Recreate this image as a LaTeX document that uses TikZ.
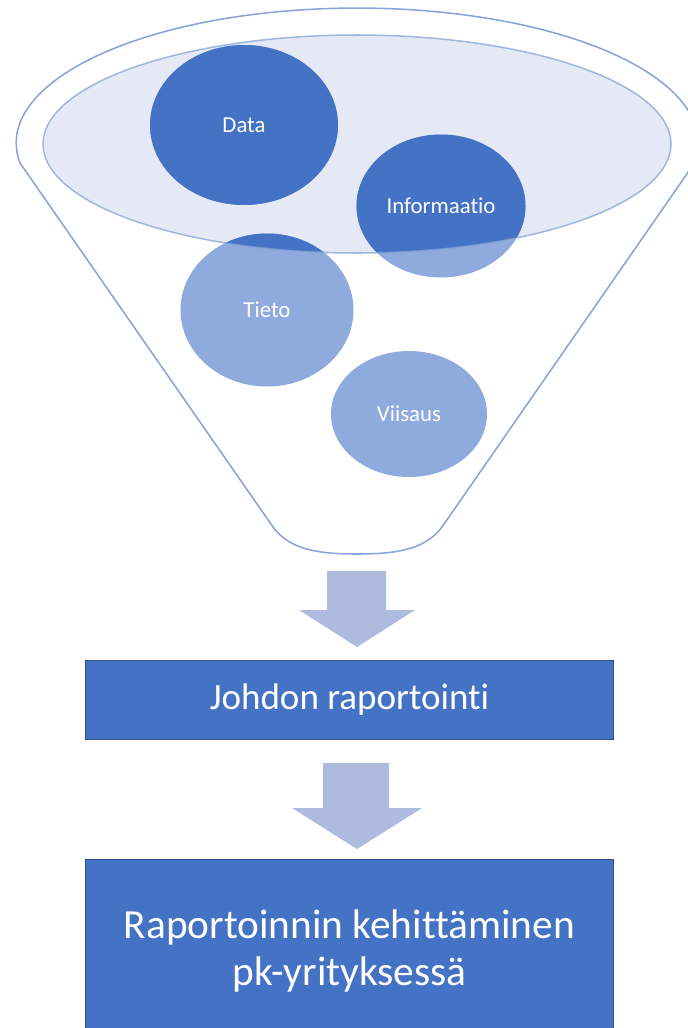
\documentclass[tikz,border=0pt]{standalone}
\usepackage{fontspec}
\setmainfont[Ligatures=NoCommon]{Carlito}
\usetikzlibrary{positioning, shapes.geometric, backgrounds, calc}
\definecolor{accentBlue}{RGB}{68, 114, 196}
\definecolor{paleBlue}{RGB}{143, 170, 220}
\definecolor{rimFill}{RGB}{229, 233, 245}
\definecolor{rimLine}{RGB}{135, 163, 217}
\definecolor{arrowFill}{RGB}{174, 187, 223}
\definecolor{boxLine}{RGB}{47, 82, 143}

\begin{document}
\begin{tikzpicture}[
    x=0.03cm, y=0.03cm,
    blobNode/.style={ellipse, inner sep=0pt, outer sep=0pt, text=white, font=\fontsize{19.5}{23}\selectfont},
    boxNode/.style={rectangle, draw=boxLine, fill=accentBlue, text=white, line width=0.8pt, align=center, inner sep=0pt, minimum width=15.85cm}
  ]
    \clip (0,0) rectangle (687,-1028);

    % Funnel contents (text here, fills on the background layer)
    \node[blobNode, minimum width=5.64cm, minimum height=4.8cm] (data) at (244,-125) {Data};
    \node[blobNode, minimum width=5.07cm, minimum height=4.29cm] (info) at (441,-206) {Informaatio};
    \node[blobNode, minimum width=5.19cm, minimum height=4.59cm] (tieto) at (267,-310) {Tieto};
    \node[blobNode, minimum width=4.68cm, minimum height=3.78cm] (viisaus) at (409,-414) {Viisaus};

    % Reporting boxes
    \node[boxNode, minimum height=2.37cm, font=\fontsize{31.6}{38}\selectfont] (johdon) at (349.5,-699.5) {Johdon raportointi};
    \node[boxNode, below=3.6cm of johdon, minimum height=5.46cm, font=\fontsize{35.3}{40}\selectfont] (kehitys) {Raportoinnin kehittäminen\\pk-yrityksessä};

    % Block arrows
    \fill[arrowFill] (327,-571) -- (386,-571) -- (386,-610) -- (415,-610) -- (357,-647) -- (299,-610) -- (327,-610) -- cycle;
    \fill[arrowFill] (323,-763) -- (389,-763) -- (389,-808) -- (422,-808) -- (357,-849) -- (292,-808) -- (323,-808) -- cycle;

    \begin{scope}[on background layer]
      % funnel body
      \draw[rimLine, line width=1.3pt, fill=white] (20,-163) arc[start angle=188.5, end angle=-8.5, x radius=341, y radius=135]
        -- (442,-527) .. controls (425,-550) and (395,-554) .. (357,-554)
        .. controls (319,-554) and (290,-550) .. (273,-527) -- cycle;
      % rim
      \fill[rimFill] (357,-144) ellipse [x radius=314, y radius=109];
      % pale circles outside the rim
      \foreach \blob in {data,info,tieto,viisaus}
        \fill[paleBlue] let \p1=(\blob.east), \p2=(\blob.north), \p3=(\blob.center) in (\p3) ellipse [x radius=\x1-\x3, y radius=\y2-\y3];
      % darker inside the rim
      \begin{scope}
        \clip (357,-144) ellipse [x radius=314, y radius=109];
        \foreach \blob in {data,info,tieto,viisaus}
          \fill[accentBlue] let \p1=(\blob.east), \p2=(\blob.north), \p3=(\blob.center) in (\p3) ellipse [x radius=\x1-\x3, y radius=\y2-\y3];
      \end{scope}
      \draw[rimLine, line width=1.3pt, opacity=0.75] (357,-144) ellipse [x radius=314, y radius=109];
    \end{scope}
  \end{tikzpicture}
\end{document}
